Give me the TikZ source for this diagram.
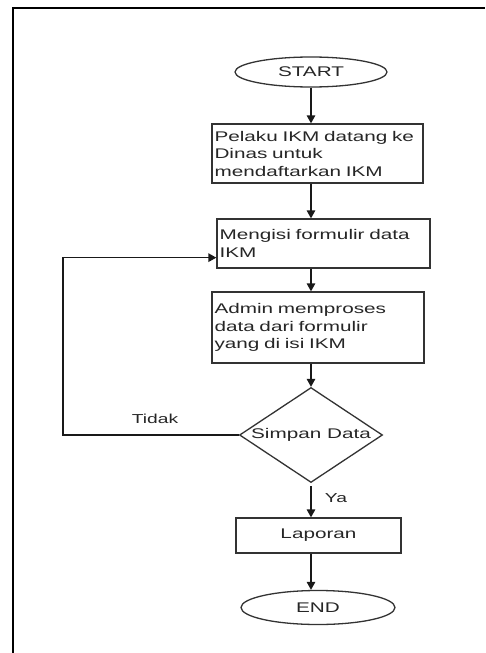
\documentclass[tikz,border=0pt]{standalone}
\usepackage{fontspec}
\newfontfamily\flowfont{Liberation Sans}[FakeStretch=1.48]
\usetikzlibrary{shapes.geometric,arrows.meta,calc}

\tikzset{
  ink/.style={draw=black!80, line width=1.3pt},
  procbox/.style={ink, rectangle, inner xsep=2.5pt, inner ysep=0pt, align=left,
    text=black!85, font=\flowfont\fontsize{14}{17.5}\selectfont},
  termnode/.style={ink, ellipse, inner sep=0pt, text=black!85,
    font=\flowfont\fontsize{14}{17}\selectfont},
  decnode/.style={ink, diamond, inner sep=0pt, shape aspect=1.5, text=black!85,
    font=\flowfont\fontsize{14}{17}\selectfont},
  flowarrow/.style={draw=black!90, line width=1.4pt,
    -{Triangle[length=8pt,width=8.5pt]}},
  edgelabel/.style={text=black!85, font=\flowfont\fontsize{13}{16}\selectfont},
}

\begin{document}
\begin{tikzpicture}[x=1pt, y=-1pt]
  \useasboundingbox (0,0) rectangle (485,653);
  \fill[white] (0,0) rectangle (485,653);

  % page frame (top and left edges only)
  \draw[black, line width=2.4pt] (13,653) -- (13,8) -- (485,8);

  % nodes
  \node[termnode, minimum width=152pt, minimum height=30pt] (start) at (311,72) {START};
  \node[procbox, minimum width=211pt, minimum height=59pt, text width=206pt]
    (daftar) at (317.5,153.5) {Pelaku IKM datang ke\\Dinas untuk\\mendaftarkan IKM};
  \node[procbox, minimum width=213pt, minimum height=49pt, text width=208pt]
    (isi) at (323.5,243.5) {Mengisi formulir data\\IKM};
  \node[procbox, minimum width=212pt, minimum height=71pt, text width=207pt]
    (proses) at (318,327.5) {Admin memproses\\data dari formulir\\yang di isi IKM};
  \node[decnode, minimum width=143pt, minimum height=95pt] (simpan) at (311,435) {Simpan Data};
  \node[procbox, align=center, minimum width=165pt, minimum height=35pt]
    (laporan) at (318.5,535.5) {Laporan};
  \node[termnode, minimum width=154pt, minimum height=34pt] (selesai) at (318,607.5) {END};

  \coordinate (loopx) at (63,0);

  % connectors
  \draw[flowarrow] (start.south) -- (start.south |- daftar.north);
  \draw[flowarrow] (daftar.south -| start) -- (isi.north -| start);
  \draw[flowarrow] (isi.south -| start) -- (proses.north -| start);
  \draw[flowarrow] (proses.south -| start) -- (simpan.north);
  \draw[flowarrow, shorten <=3pt] (simpan.south) -- (simpan.south |- laporan.north);
  \draw[flowarrow] (laporan.south -| start) -- (selesai.north -| start);
  \draw[flowarrow] (simpan.west) -- (simpan.west -| loopx)
    |- ([yshift=11pt]isi.south west);

  % branch labels
  \node[edgelabel] (tidak) at (155,419) {Tidak};
  \node[edgelabel] (ya) at (336,498) {Ya};
\end{tikzpicture}
\end{document}
